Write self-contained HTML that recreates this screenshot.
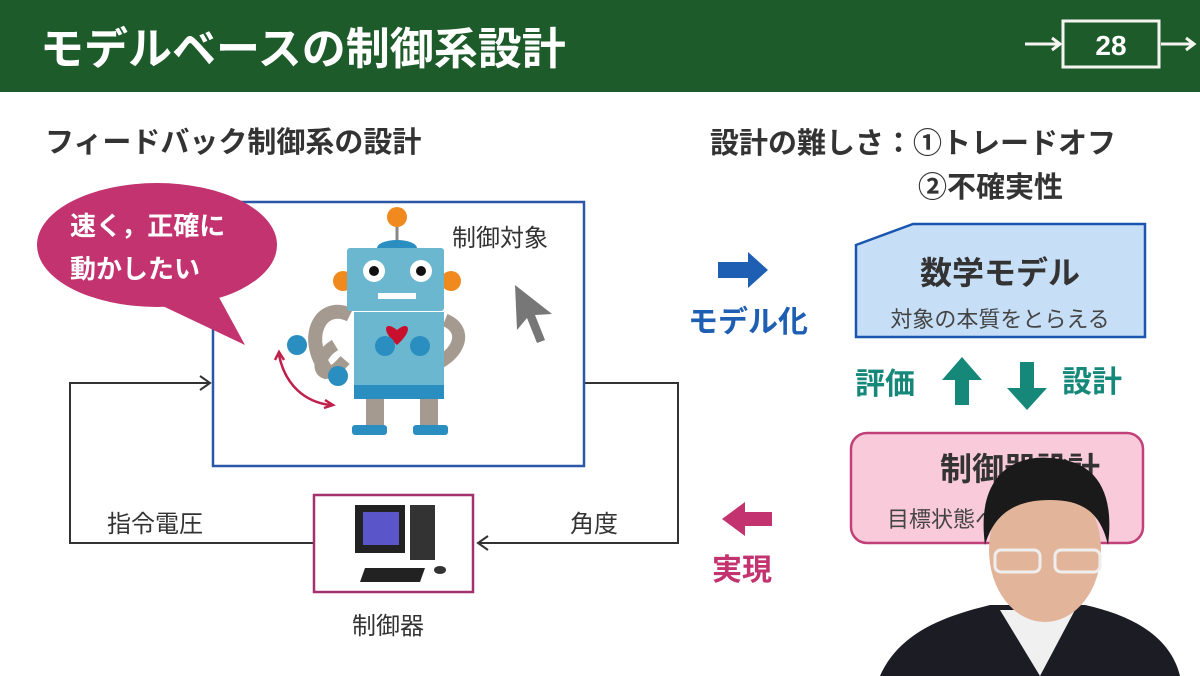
<!DOCTYPE html>
<html><head><meta charset="utf-8"><style>
html,body{margin:0;padding:0;background:#fff}
svg{display:block}
text{font-family:"Liberation Sans","Noto Sans CJK JP",sans-serif}
</style></head><body>
<svg width="1200" height="676" viewBox="0 0 1200 676" xmlns="http://www.w3.org/2000/svg">
<rect x="0" y="0" width="1200" height="92" fill="#1e5b2b"/>
<text x="40" y="64" font-size="44" font-weight="bold" fill="#fff">モデルベースの制御系設計</text>
<rect x="1063" y="21" width="96" height="46" fill="none" stroke="#f4f4f0" stroke-width="3"/>
<text x="1111" y="55" font-size="28" font-weight="bold" fill="#fff" text-anchor="middle">28</text>
<g stroke="#f4f4f0" stroke-width="3" fill="none"><path d="M1025 44H1060M1052 38l8 6-8 6"/><path d="M1161 44H1194M1186 38l8 6-8 6"/></g>

<text x="45" y="152" font-size="29" font-weight="bold" fill="#333">フィードバック制御系の設計</text>
<text x="710" y="153" font-size="29" font-weight="bold" fill="#333">設計の難しさ：①トレードオフ</text>
<text x="918" y="197" font-size="29" font-weight="bold" fill="#333">②不確実性</text>

<g stroke="#333" stroke-width="2" fill="none">
<path d="M584 383H678V543H478"/><path d="M488 536l-10 7 10 7"/>
<path d="M313 543H70V383H210"/><path d="M200 376l10 7-10 7"/>
</g>
<rect x="213" y="202" width="371" height="264" fill="#fff" stroke="#2b57a8" stroke-width="2.5"/>
<rect x="314" y="495" width="159" height="97" fill="#fff" stroke="#a4306c" stroke-width="2.5"/>
<text x="107" y="532" font-size="24" fill="#333">指令電圧</text>
<text x="570" y="532" font-size="24" fill="#333">角度</text>
<text x="352" y="634" font-size="24" fill="#333">制御器</text>
<text x="452" y="246" font-size="24" fill="#333">制御対象</text>

<rect x="355" y="505" width="50" height="48" fill="#222"/><rect x="363" y="512" width="36" height="33" fill="#5a55c8"/>
<rect x="410" y="505" width="25" height="55" fill="#333"/>
<polygon points="365,568 425,568 420,582 360,582" fill="#222"/>
<ellipse cx="440" cy="570" rx="6" ry="4" fill="#333"/>

<path d="M330 375 C300 340,320 300,350 315" stroke="#a49a90" stroke-width="14" fill="none"/>
<path d="M335 345 C310 360,320 390,345 360" stroke="#a49a90" stroke-width="12" fill="none"/>
<path d="M420 370 C460 360,470 330,445 320" stroke="#a49a90" stroke-width="13" fill="none"/>
<line x1="397" y1="215" x2="397" y2="245" stroke="#888" stroke-width="3"/>
<circle cx="397" cy="217" r="10" fill="#f08a1e"/>
<ellipse cx="397" cy="248" rx="20" ry="8" fill="#2a8ec0"/>
<circle cx="343" cy="281" r="10" fill="#f08a1e"/><circle cx="451" cy="281" r="10" fill="#f08a1e"/>
<rect x="347" y="248" width="97" height="63" rx="3" fill="#6bb7cf"/>
<circle cx="374" cy="271" r="11" fill="#fff"/><circle cx="374" cy="271" r="5" fill="#111"/>
<circle cx="421" cy="271" r="11" fill="#fff"/><circle cx="421" cy="271" r="5" fill="#111"/>
<rect x="378" y="293" width="38" height="6" fill="#fff"/>
<rect x="354" y="312" width="90" height="75" fill="#6bb7cf"/>
<rect x="354" y="385" width="90" height="14" fill="#2a8ec0"/>
<path d="M397 345 C380 330,385 320,397 330 C409 320,414 330,397 345Z" fill="#c8102e"/>
<circle cx="385" cy="346" r="10" fill="#2a8ec0"/><circle cx="420" cy="346" r="10" fill="#2a8ec0"/>
<circle cx="297" cy="345" r="10" fill="#2a8ec0"/><circle cx="338" cy="376" r="10" fill="#2a8ec0"/>
<rect x="366" y="399" width="18" height="28" fill="#a49a90"/><rect x="420" y="399" width="18" height="28" fill="#a49a90"/>
<rect x="352" y="425" width="35" height="10" rx="3" fill="#2a8ec0"/><rect x="413" y="425" width="35" height="10" rx="3" fill="#2a8ec0"/>
<path d="M279 355 C285 385,305 402,330 405" stroke="#c01f4a" stroke-width="2.5" fill="none"/>
<path d="M275 360l4-8 5 8M325 400l8 5-9 3" stroke="#c01f4a" stroke-width="2.5" fill="none"/>
<path d="M515 285 L517 330 L527 318 L537 343 L545 340 L535 315 L552 314Z" fill="#777"/>

<path d="M150 300 L245 345 L215 290Z" fill="#c2336f"/>
<ellipse cx="157" cy="245" rx="120" ry="62" fill="#c2336f"/>
<text x="70" y="235" font-size="26" font-weight="bold" fill="#fff">速く，正確に</text>
<text x="70" y="278" font-size="26" font-weight="bold" fill="#fff">動かしたい</text>

<path d="M718 262H748V252L768 270L748 288V278H718Z" fill="#1e5fb4"/>
<text x="688" y="332" font-size="30" font-weight="bold" fill="#1e5fb4">モデル化</text>
<path d="M856 245 L913 224 H1145 V337 H856Z" fill="#c7def7" stroke="#1a56b0" stroke-width="2.5"/>
<text x="1000" y="284" font-size="32" font-weight="bold" fill="#333" text-anchor="middle">数学モデル</text>
<text x="1000" y="327" font-size="22" fill="#444" text-anchor="middle">対象の本質をとらえる</text>
<text x="855" y="394" font-size="30" font-weight="bold" fill="#15887a">評価</text>
<text x="1062" y="392" font-size="30" font-weight="bold" fill="#15887a">設計</text>
<path d="M962 357 L982 380 H969 V405 H955 V380 H942Z" fill="#15887a"/>
<path d="M1020 362 H1034 V388 H1047 L1027 410 L1007 388 H1020Z" fill="#15887a"/>
<rect x="851" y="433" width="292" height="110" rx="16" fill="#f9cad9" stroke="#c2407a" stroke-width="2.5"/>
<text x="940" y="480" font-size="32" font-weight="bold" fill="#333">制御器設計</text>
<text x="887" y="527" font-size="22" fill="#444">目標状態へ</text>
<path d="M772 512H745V502L722 519L745 536V526H772Z" fill="#c2336f"/>
<text x="712" y="580" font-size="30" font-weight="bold" fill="#c2336f">実現</text>

<!-- person -->
<path d="M880 676 C900 630,950 615,990 605 L1085 605 C1130 615,1170 635,1180 676Z" fill="#1c1c24"/>
<path d="M1000 610 L1040 676 L1075 610Z" fill="#f0f0f0"/>
<ellipse cx="1045" cy="550" rx="56" ry="72" fill="#e2b59a"/>
<path d="M985 545 C975 470,1020 455,1050 458 C1095 460,1115 490,1108 545 C1100 510,1080 500,1050 500 C1020 500,995 510,985 545Z" fill="#1a1a1a"/>
<rect x="995" y="550" width="45" height="22" rx="6" fill="none" stroke="#eee" stroke-width="3"/>
<rect x="1055" y="550" width="45" height="22" rx="6" fill="none" stroke="#eee" stroke-width="3"/>
</svg>
</body></html>
